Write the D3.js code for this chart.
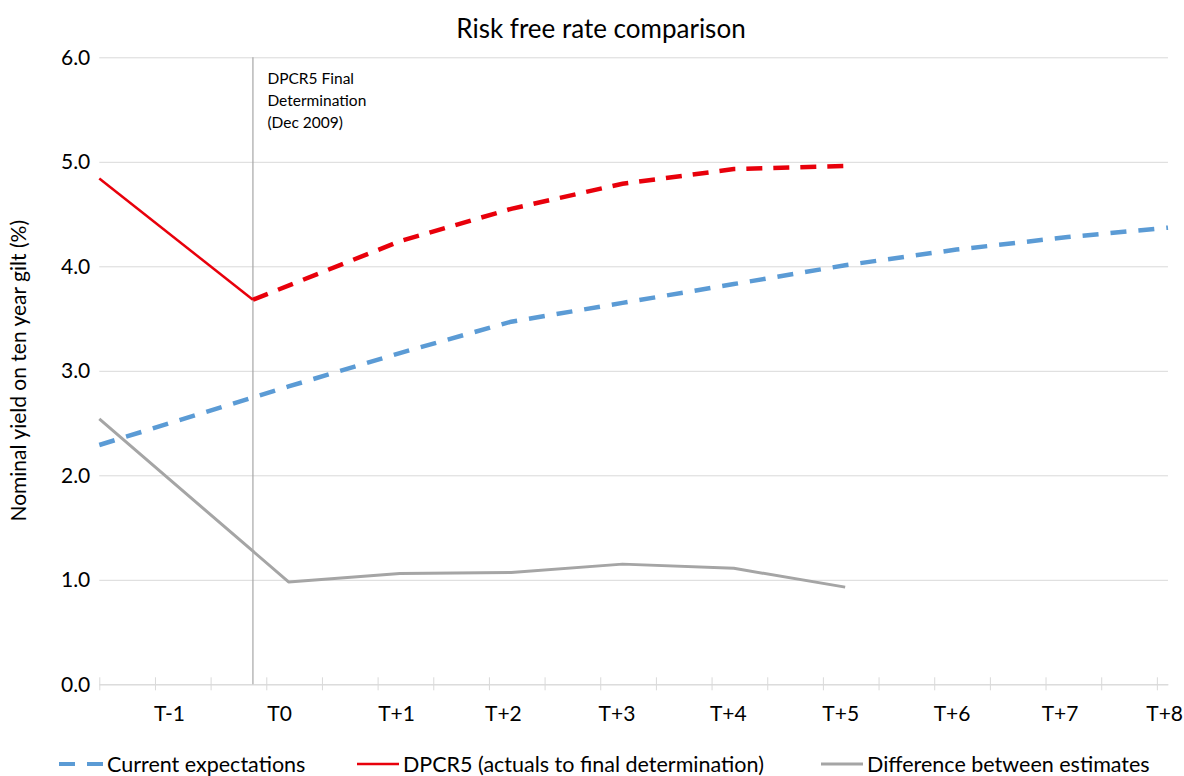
<!DOCTYPE html>
<html>
<head>
<meta charset="utf-8">
<script src="https://cdn.jsdelivr.net/npm/d3@7"></script>
<style>
  body { margin: 0; background: #fff; }
  svg { display: block; }
  text { font-family: Lato, "Open Sans", sans-serif; fill: #000; }
</style>
</head>
<body>
<svg id="chart" width="1184" height="776"></svg>
<script>
// Period labels along the time axis and where they sit (years from start)
const periodLabels = ["T-1", "T0", "T+1", "T+2", "T+3", "T+4", "T+5", "T+6", "T+7", "T+8"];
const periodLabelAt = [0.63, 1.62, 2.67, 3.63, 4.65, 5.65, 6.66, 7.66, 8.63, 9.57];
const yTicks = [0, 1, 2, 3, 4, 5, 6];

// Current expectations of the ten year gilt yield (%)
const currentX = [0, 1.7, 2.7, 3.7, 4.7, 5.7, 6.7, 7.7, 8.7, 9.6];
const currentExpectations = [2.29, 2.85, 3.17, 3.47, 3.65, 3.83, 4.01, 4.16, 4.28, 4.37];

// DPCR5: actuals up to the final determination, then the assumed path
const dpcr5ActualX = [0, 1.38];
const dpcr5Actual = [4.84, 3.68];
const dpcr5ForecastX = [1.38, 2.7, 3.7, 4.7, 5.7, 6.7];
const dpcr5Forecast = [3.68, 4.24, 4.55, 4.79, 4.93, 4.96];

// Difference between the two estimates
const differenceX = [0, 1.7, 2.7, 3.7, 4.7, 5.7, 6.7];
const difference = [2.54, 0.98, 1.06, 1.07, 1.15, 1.11, 0.93];

const determinationAt = 1.38;
const determinationNote = ["DPCR5 Final", "Determination", "(Dec 2009)"];

const legendItems = [
  { label: "Current expectations", color: "#5b9bd5", dash: "16,12", width: 4, x: 59, w: 44 },
  { label: "DPCR5 (actuals to final determination)", color: "#e8000b", dash: null, width: 2.5, x: 357, w: 42 },
  { label: "Difference between estimates", color: "#a5a5a5", dash: null, width: 3, x: 821, w: 42 }
];

const svg = d3.select("#chart");
const plotLeft = 99.3, plotRight = 1168, plotTop = 57.3, plotBottom = 684.3;

const x = d3.scaleLinear().domain([0, 9.6]).range([plotLeft, plotRight]);
const y = d3.scaleLinear().domain([0, 6]).range([plotBottom, plotTop]);

// Title
svg.append("text")
  .attr("x", 601).attr("y", 38)
  .attr("text-anchor", "middle")
  .style("font-size", "26px")
  .text("Risk free rate comparison");

// Horizontal gridlines and value labels
const yAxis = svg.append("g")
  .attr("transform", `translate(${plotLeft},0)`)
  .call(d3.axisLeft(y).tickValues(yTicks).tickFormat(d3.format(".1f"))
    .tickSize(-(plotRight - plotLeft)).tickPadding(9));
yAxis.select(".domain").remove();
yAxis.selectAll(".tick line").attr("stroke", "#d9d9d9").attr("stroke-width", 1);
yAxis.selectAll(".tick text").style("font-size", "21px").attr("fill", "#000");

// Time axis with crossing tick marks
const xAxis = svg.append("g")
  .attr("transform", `translate(0,${plotBottom})`)
  .call(d3.axisBottom(x).tickValues(d3.range(0, 9.51, 0.5)).tickFormat("").tickSizeOuter(0));
xAxis.select(".domain").attr("stroke", "#d9d9d9");
xAxis.selectAll(".tick line").attr("stroke", "#d9d9d9").attr("y1", -7).attr("y2", 6);

svg.append("g").selectAll("text")
  .data(periodLabels)
  .join("text")
  .attr("x", (d, i) => x(periodLabelAt[i]))
  .attr("y", 721)
  .attr("text-anchor", "middle")
  .style("font-size", "21px")
  .text(d => d);

// Y axis title
svg.append("text")
  .attr("transform", `translate(26,${(plotTop + plotBottom) / 2}) rotate(-90)`)
  .attr("text-anchor", "middle")
  .style("font-size", "21px")
  .text("Nominal yield on ten year gilt (%)");

// Final determination marker
svg.append("line")
  .attr("x1", x(determinationAt)).attr("x2", x(determinationAt))
  .attr("y1", y(6)).attr("y2", y(0))
  .attr("stroke", "#a6a6a6").attr("stroke-width", 1.2);

svg.append("g").selectAll("text")
  .data(determinationNote)
  .join("text")
  .attr("x", x(determinationAt) + 14.5)
  .attr("y", (d, i) => 84 + i * 22)
  .style("font-size", "15.5px")
  .text(d => d);

const line = d3.line().x(d => x(d[0])).y(d => y(d[1]));
const plot = svg.append("g").attr("fill", "none");

plot.append("path")
  .datum(differenceX.map((d, i) => [d, difference[i]]))
  .attr("d", line).attr("stroke", "#a5a5a5").attr("stroke-width", 3)
  .attr("stroke-linejoin", "round");

plot.append("path")
  .datum(currentX.map((d, i) => [d, currentExpectations[i]]))
  .attr("d", line).attr("stroke", "#5b9bd5").attr("stroke-width", 4.5)
  .attr("stroke-dasharray", "16,12");

plot.append("path")
  .datum(dpcr5ActualX.map((d, i) => [d, dpcr5Actual[i]]))
  .attr("d", line).attr("stroke", "#e8000b").attr("stroke-width", 2.5);

plot.append("path")
  .datum(dpcr5ForecastX.map((d, i) => [d, dpcr5Forecast[i]]))
  .attr("d", line).attr("stroke", "#e8000b").attr("stroke-width", 4.5)
  .attr("stroke-dasharray", "16,11");

// Legend
const legend = svg.append("g").attr("transform", "translate(0,764)");
const item = legend.selectAll("g").data(legendItems).join("g")
  .attr("transform", d => `translate(${d.x},0)`);
item.append("line")
  .attr("x1", 0).attr("x2", d => d.w).attr("y1", 0).attr("y2", 0)
  .attr("stroke", d => d.color).attr("stroke-width", d => d.width)
  .attr("stroke-dasharray", d => d.dash);
item.append("text")
  .attr("x", d => d.w + 4).attr("y", 7.5)
  .style("font-size", "21.5px")
  .text(d => d.label);
</script>
</body>
</html>
